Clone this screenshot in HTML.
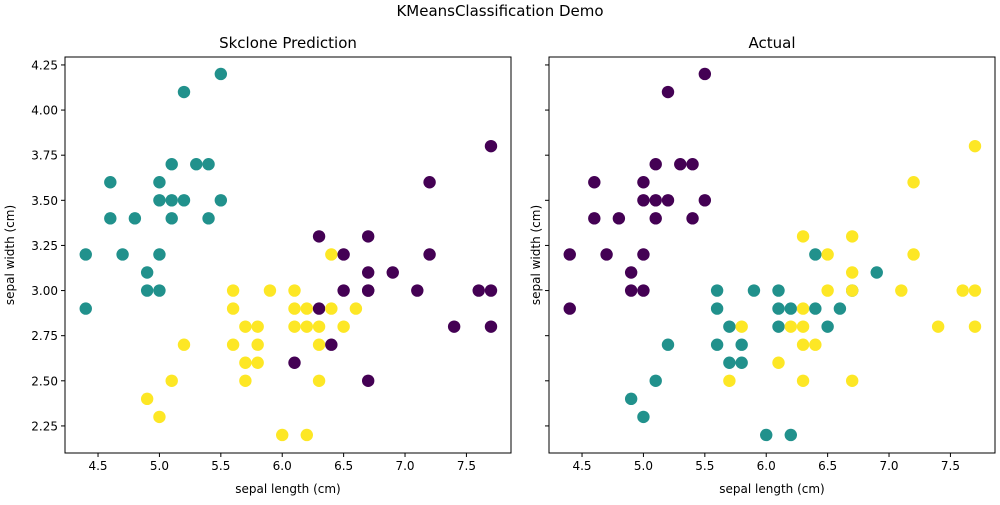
<!DOCTYPE html>
<html><head><meta charset="utf-8"><style>
body{margin:0;background:#fff;font-family:"Liberation Sans","DejaVu Sans",sans-serif;}
svg text{font-family:"DejaVu Sans","Liberation Sans",sans-serif;fill:#000}
</style></head><body>
<svg id="fig" width="1000" height="500" xmlns="http://www.w3.org/2000/svg">
<text x="500" y="16" font-size="15" text-anchor="middle">KMeansClassification Demo</text>
</svg>
<script>
const xs=[4.4,4.4,4.6,4.6,4.7,4.8,4.9,4.9,5.0,5.0,5.0,5.0,5.1,5.1,5.1,5.2,5.2,5.3,5.4,5.4,5.5,5.5,
4.9,5.0,5.1,5.2,5.6,5.6,5.6,5.7,5.7,5.7,5.8,5.8,5.8,5.9,6.0,6.1,6.1,6.1,6.1,6.2,6.2,6.2,6.3,6.3,6.3,6.3,6.3,6.4,6.4,6.4,6.5,6.5,6.5,6.6,6.7,6.7,6.7,6.7,6.7,6.9,7.1,7.2,7.2,7.4,7.6,7.7,7.7,7.7];
const ys=[3.2,2.9,3.6,3.4,3.2,3.4,3.1,3.0,3.6,3.5,3.2,3.0,3.7,3.5,3.4,4.1,3.5,3.7,3.7,3.4,4.2,3.5,
2.4,2.3,2.5,2.7,3.0,2.9,2.7,2.8,2.6,2.5,2.8,2.7,2.6,3.0,2.2,3.0,2.9,2.8,2.6,2.9,2.8,2.2,3.3,2.9,2.8,2.7,2.5,3.2,2.9,2.7,3.2,3.0,2.8,2.9,3.3,3.1,3.0,3.0,2.5,3.1,3.0,3.2,3.6,2.8,3.0,3.0,2.8,3.8];
const pred=[1,1,1,1,1,1,1,1,1,1,1,1,1,1,1,1,1,1,1,1,1,1,
2,2,2,2,2,2,2,2,2,2,2,2,2,2,2,2,2,2,0,2,2,2,0,0,2,2,2,2,2,0,0,0,2,2,0,0,0,0,0,0,0,0,0,0,0,0,0,0];
const actual=[0,0,0,0,0,0,0,0,0,0,0,0,0,0,0,0,0,0,0,0,0,0,
1,1,1,1,1,1,1,1,1,2,2,1,1,1,1,1,1,1,2,1,2,1,2,2,2,2,2,1,1,2,2,2,1,1,2,2,1,2,2,1,2,2,2,2,2,2,2,2];
const xTicks=[4.5,5.0,5.5,6.0,6.5,7.0,7.5];
const yTicks=[2.25,2.50,2.75,3.00,3.25,3.50,3.75,4.00,4.25];
const colors=['#440154','#21918c','#fde725'];
const NS='http://www.w3.org/2000/svg';
const svg=document.getElementById('fig');
function mk(t,a,p){const e=document.createElementNS(NS,t);for(const k in a)e.setAttribute(k,a[k]);(p||svg).appendChild(e);return e;}
const X0=4.231,X1=7.863,Y0=2.1,Y1=4.294,T=57,B=453;
function panel(L,R,title,labels,cls,nm){
  const g=mk('g',{});
  
  
  const sx=v=>L+(v-X0)/(X1-X0)*(R-L), sy=v=>B-(v-Y0)/(Y1-Y0)*(B-T);
  const fr=mk('rect',{x:L,y:T,width:R-L,height:B-T,fill:'none',stroke:'#000','stroke-width':1},g);
  
  
  xTicks.forEach(v=>{const x=sx(v);mk('line',{x1:x,x2:x,y1:B,y2:B+4,stroke:'#000'},g);
    const t=mk('text',{x:x,y:B+17,'font-size':12,'text-anchor':'middle'},g);t.textContent=v.toFixed(1);
    
    });
  yTicks.forEach(v=>{const y=sy(v);mk('line',{x1:L-4,x2:L,y1:y,y2:y,stroke:'#000'},g);
    if(labels){const t=mk('text',{x:L-7,y:y+4.5,'font-size':12,'text-anchor':'end'},g);t.textContent=v.toFixed(2);
    
    }});
  const ti=mk('text',{x:(L+R)/2,y:48,'font-size':15,'text-anchor':'middle'},g);ti.textContent=title;
  
  
  const xl=mk('text',{x:(L+R)/2,y:B+40,'font-size':12,'text-anchor':'middle'},g);xl.textContent='sepal length (cm)';
  
  
  const yx=labels?14:540;
  const yl=mk('text',{x:yx,y:(T+B)/2,'font-size':12,'text-anchor':'middle',transform:`rotate(-90 ${yx} ${(T+B)/2})`},g);yl.textContent='sepal width (cm)';
  
  
  xs.forEach((v,i)=>{const c=mk('circle',{cx:sx(v),cy:sy(ys[i]),r:6.2,fill:colors[cls[i]]},g);
    
    });
}
panel(65,511,'Skclone Prediction',true,pred,'prediction-panel');
panel(549,995,'Actual',false,actual,'actual-panel');
</script>
</body></html>
